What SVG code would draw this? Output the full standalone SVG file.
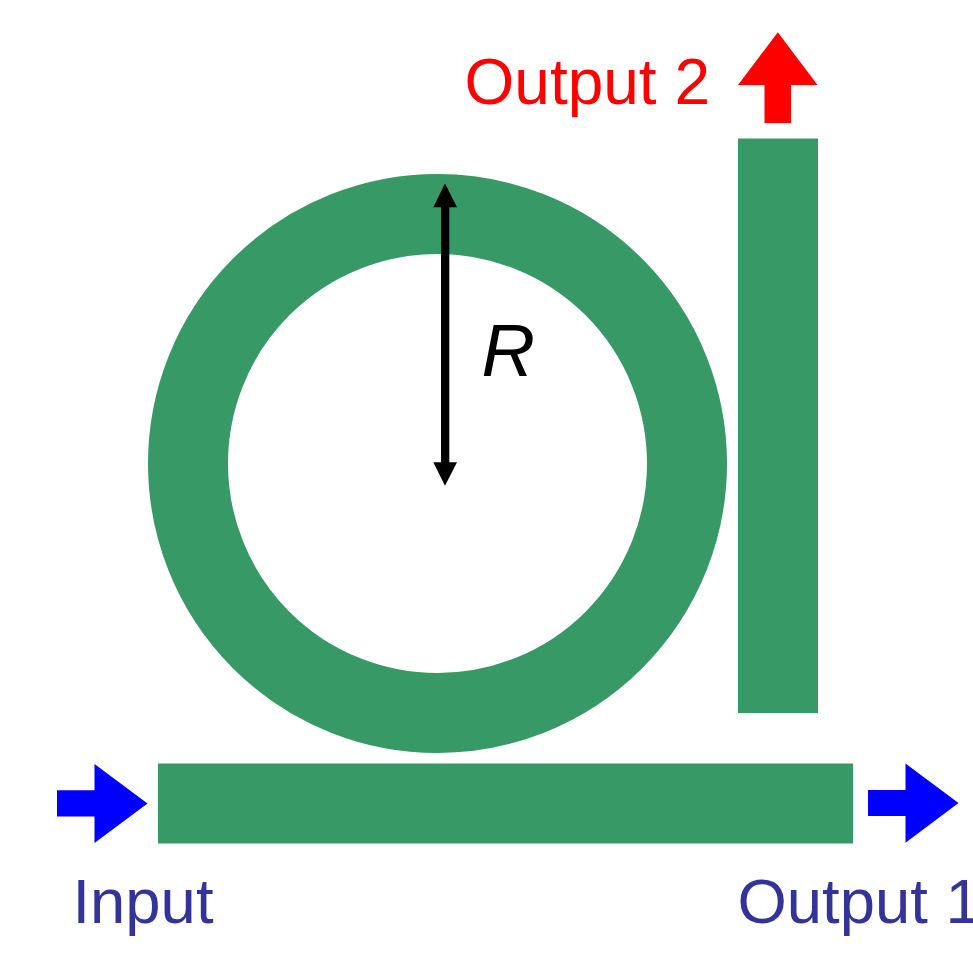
<svg xmlns="http://www.w3.org/2000/svg" width="973" height="954" viewBox="0 0 973 954">
<style>
.wg{fill:#369966}
.blue{fill:#0000ff}
.red{fill:#ff0000}
text{font-family:"Liberation Sans",Arial,sans-serif;font-size:63.4px}
.lab{fill:#333399}
</style>
<rect width="973" height="954" fill="#ffffff"/>
<g id="ring"><circle cx="437.500" cy="463.500" r="249.500" fill="none" stroke="#369966" stroke-width="80"/></g>
<g id="bus-waveguide"><rect class="wg" x="158" y="763.500" width="695" height="80"/></g>
<g id="drop-waveguide"><rect class="wg" x="738" y="138.500" width="80" height="574.500"/></g>
<g id="connectors">
<path id="arrow-input" class="blue" d="M57 790.300H94.500V764L147.500 803.500L94.500 843V816.500H57Z"/>
<path id="arrow-output1" class="blue" d="M868 790H905.500V763.500L958.500 803L905.500 842.700V816H868Z"/>
<path id="arrow-output2" class="red" d="M764.500 123V85H738L777.800 32.300L817.500 85H791V123Z"/>
<path id="arrow-radius" fill="#000" d="M445 183.500L457 207.300H449.300V462.300H457L445 485.700L433.300 462.300H441V207.300H433.300Z"/>
</g>
<g id="label-input"><text class="lab" x="72.500" y="923">Input</text></g>
<g id="label-output1"><text class="lab" x="737.500" y="923">Output 1</text></g>
<g id="label-output2"><text class="red" x="464.500" y="104" style="font-size:64px">Output 2</text></g>
<g id="label-r"><text x="481.500" y="376" font-style="italic" style="font-size:74px">R</text></g>
</svg>
